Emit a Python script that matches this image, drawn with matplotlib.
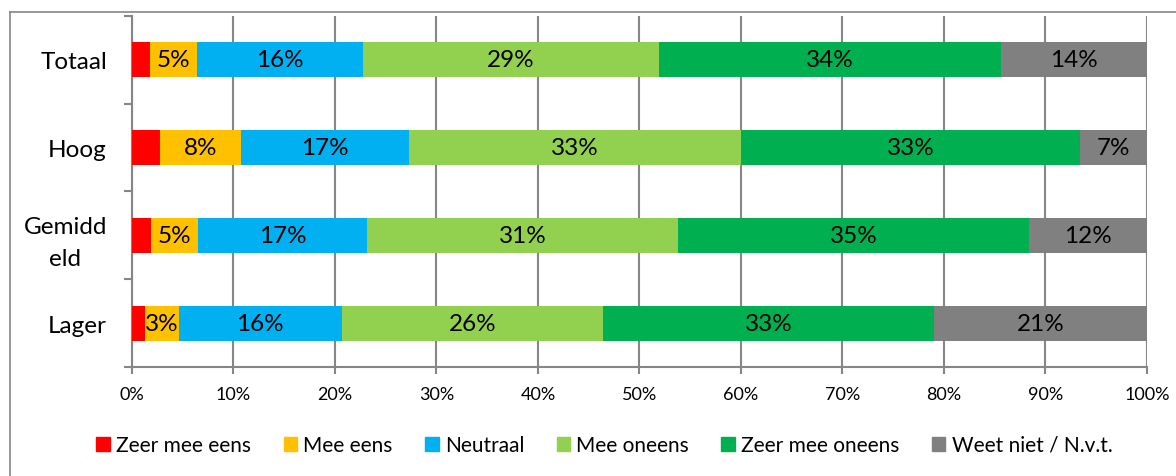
# -*- coding: utf-8 -*-

import matplotlib
matplotlib.use("Agg")
import matplotlib.pyplot as plt
from matplotlib.lines import Line2D
import numpy as np

plt.rcParams['font.family'] = ['Lato', 'DejaVu Sans']

categories = ['Totaal', 'Hoog', 'Gemidd\neld', 'Lager']
series = ['Zeer mee eens', 'Mee eens', 'Neutraal', 'Mee oneens',
          'Zeer mee oneens', 'Weet niet / N.v.t.']
colors = ['#FF0000', '#FFC000', '#00B0F0', '#92D050', '#00B050', '#808080']

zeer_mee_eens = [1.8, 2.8, 1.9, 1.3]
mee_eens = [4.6, 7.9, 4.6, 3.3]
neutraal = [16.4, 16.6, 16.7, 16.1]
mee_oneens = [29.1, 32.7, 30.6, 25.7]
zeer_mee_oneens = [33.7, 33.4, 34.6, 32.6]
weet_niet = [14.4, 6.6, 11.6, 21.0]

data = np.array([zeer_mee_eens, mee_eens, neutraal, mee_oneens,
                 zeer_mee_oneens, weet_niet])
data = data / data.sum(axis=0) * 100

FONT_SIZE = 17.5
y = np.arange(len(categories))

fig = plt.figure(figsize=(11.76, 4.77), dpi=100)
ax = fig.add_axes([0.1122, 0.2285, 0.9753 - 0.1122, 0.9644 - 0.2285])

left = np.zeros(len(categories))
for i, (name, col) in enumerate(zip(series, colors)):
    bars = ax.barh(y, data[i], left=left, height=0.4, color=col, label=name,
                   zorder=3)
    if i > 0:
        for b, v in zip(bars, data[i]):
            ax.text(b.get_x() + b.get_width() / 2, b.get_y() + b.get_height() / 2,
                    '{:.0f}%'.format(v), ha='center', va='center',
                    fontsize=FONT_SIZE, color='black', zorder=4)
    left += data[i]

ax.set_xlim(0, 100)
ax.set_ylim(len(categories) - 0.5, -0.5)
ax.set_xticks(np.arange(0, 101, 10))
ax.set_xticklabels(['{}%'.format(v) for v in range(0, 101, 10)], fontsize=13)
ax.set_yticks(y)
ax.set_yticklabels(categories, fontsize=FONT_SIZE, linespacing=1.6,
                   multialignment='center')
ax.set_yticks(np.arange(-0.5, len(categories)), minor=True)
ax.tick_params(axis='y', which='major', length=0, pad=18)
ax.tick_params(axis='y', which='minor', length=6, color='#868686', width=1.5)
ax.tick_params(axis='x', length=5, color='#868686', width=1.5, pad=9)

ax.grid(axis='x', color='#868686', linewidth=1.5, zorder=0)
ax.set_axisbelow(True)
for s in ['top', 'right']:
    ax.spines[s].set_visible(False)
for s in ['left', 'bottom']:
    ax.spines[s].set_color('#868686')
    ax.spines[s].set_linewidth(1.5)

handles = [plt.Rectangle((0, 0), 1, 1, color=c) for c in colors]
fig.legend(handles, series, loc='center', bbox_to_anchor=(0.514, 0.065),
           ncol=6, frameon=False, fontsize=15, handlelength=0.65,
           handleheight=0.65, handletextpad=0.3, columnspacing=1.55)

# chart frame (left and top edges)
fig.add_artist(Line2D([10 / 1176, 10 / 1176], [0, 1 - 13 / 477],
                      transform=fig.transFigure, color='#868686', linewidth=1.2))
fig.add_artist(Line2D([10 / 1176, 1], [1 - 13 / 477, 1 - 13 / 477],
                      transform=fig.transFigure, color='#868686', linewidth=1.2))

plt.savefig("out.png", dpi=100)
